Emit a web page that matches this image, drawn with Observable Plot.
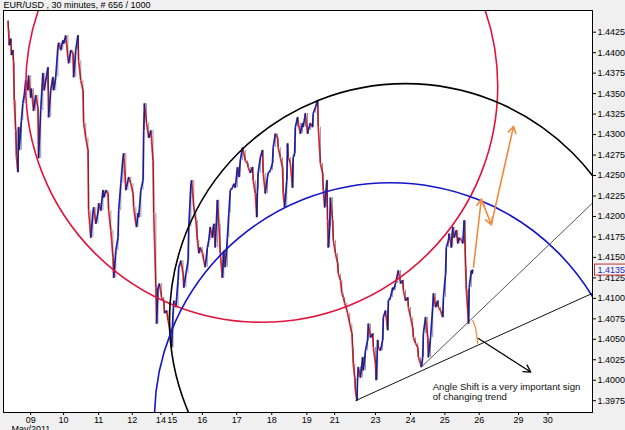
<!DOCTYPE html>
<html><head><meta charset="utf-8">
<script src="https://cdn.jsdelivr.net/npm/d3@7"></script>
<script src="https://cdn.jsdelivr.net/npm/@observablehq/plot@0.6"></script>
<style>
html,body{margin:0;padding:0;background:#f0f0f0;}
#chart{position:relative;width:625px;height:430px;overflow:hidden;}
</style></head><body><div id="chart"></div>
<script>
const title = "EUR/USD , 30 minutes, # 656 / 1000";
const monthLabel = "May/2011";

// 30-minute bar index (position in the bar sequence) and price along the path
const barIndex = [
  6,7,8,10,11,13,14,15,17,18,
  20,21,22,25,27,29,31,34,35,38,
  39,42,45,48,49,52,55,57,62,63,
  66,69,70,73,76,77,80,83,84,87,
  90,91,94,97,98,101,104,105,108,111,
  112,115,118,119,122,125,126,129,132,133,
  136,139,140,143,146,147,150,153,154,157,
  160,161,164,167,168,171,174,175,178,181,
  182,185,186,188,189,192,195,196,197,200,
  203,206,209,210,213,214,216,218,221,224,
  225,228,230,232,235,237,238,241,244,245,
  248,251,252,255,258,259,262,263,266,267,
  269,271,273,275,278,280,282,285,287,289,
  292,294,296,299,301,303,306,308,310,313,
  315,317,320,322,324,327,329,331,334,335,
  338,341,342,345,348,349,352,354,355,356,
  359,362,363,366,369,370,373,376,377,380,
  383,384,387,390,391,393,396,397,398,401,
  404,405,407,408,411,412,415,418,419,422,
  425,426,429,432,433,436,439,440,443,446,
  447,449,452,453,454,456,457,460,461,464,
  467,468,471,473,475,477,480,481,484,487,
  488,489,491,492,494,495,496,499,502,503,
  506,509,510,513,516,517,520,521,523,524,
  527,530,531,534,537,538,541,544,545,548,
  551,552,555,558,559,562,565,566,569,572,
  573,576,579,580,583,584,586,587,590,593,
  594,597,600,601,604,607,608,611,614,615,
  618,619,622,623,626,628,630,633,635,637,
  640,642,644,646,647,649,650,651,654,655,656
];
const closePrice = [
  1.4439,1.4427,1.4409,1.4417,1.4397,1.4403,1.4388,1.4342,1.4305,1.4274,
  1.4254,1.4309,1.4281,1.4317,1.4338,1.4348,1.4366,1.4354,1.4372,1.4345,
  1.4356,1.4329,1.4348,1.4333,1.4271,1.4329,1.4375,1.4354,1.4382,1.4321,
  1.4354,1.4370,1.4354,1.4370,1.4406,1.4412,1.4403,1.4415,1.4411,1.4421,
  1.4394,1.4387,1.4403,1.4399,1.4370,1.4403,1.4421,1.4390,1.4366,1.4354,
  1.4314,1.4296,1.4281,1.4207,1.4174,1.4204,1.4211,1.4191,1.4204,1.4216,
  1.4207,1.4232,1.4223,1.4232,1.4228,1.4207,1.4183,1.4150,1.4125,1.4158,
  1.4174,1.4207,1.4240,1.4272,1.4277,1.4232,1.4244,1.4248,1.4240,1.4228,
  1.4211,1.4191,1.4187,1.4204,1.4199,1.4232,1.4244,1.4305,1.4338,1.4314,
  1.4296,1.4305,1.4268,1.4204,1.4113,1.4069,1.4113,1.4118,1.4101,1.4097,
  1.4082,1.4085,1.4073,1.4064,1.4040,1.4082,1.4097,1.4089,1.4122,1.4138,
  1.4146,1.4130,1.4113,1.4130,1.4146,1.4187,1.4240,1.4244,1.4211,1.4204,
  1.4195,1.4171,1.4155,1.4162,1.4155,1.4146,1.4138,1.4162,1.4171,1.4187,
  1.4174,1.4191,1.4162,1.4220,1.4191,1.4155,1.4125,1.4158,1.4138,1.4174,
  1.4204,1.4232,1.4235,1.4240,1.4235,1.4260,1.4248,1.4268,1.4284,1.4281,
  1.4268,1.4265,1.4260,1.4253,1.4260,1.4244,1.4228,1.4199,1.4232,1.4253,
  1.4272,1.4281,1.4253,1.4228,1.4248,1.4253,1.4256,1.4265,1.4284,1.4301,
  1.4296,1.4284,1.4272,1.4260,1.4228,1.4211,1.4244,1.4289,1.4272,1.4265,
  1.4235,1.4272,1.4277,1.4309,1.4321,1.4314,1.4301,1.4314,1.4309,1.4326,
  1.4301,1.4305,1.4314,1.4309,1.4326,1.4333,1.4342,1.4309,1.4265,1.4253,
  1.4232,1.4211,1.4244,1.4195,1.4162,1.4187,1.4223,1.4195,1.4171,1.4155,
  1.4143,1.4130,1.4122,1.4106,1.4101,1.4094,1.4085,1.4082,1.4069,1.4057,
  1.4040,1.4020,1.4003,1.3987,1.3975,1.4003,1.4016,1.4003,1.4028,1.4012,
  1.4036,1.4049,1.4069,1.4052,1.4057,1.4040,1.4020,1.4000,1.4049,1.4040,
  1.4036,1.4049,1.4077,1.4085,1.4061,1.4097,1.4101,1.4113,1.4110,1.4118,
  1.4130,1.4134,1.4118,1.4122,1.4110,1.4097,1.4101,1.4089,1.4077,1.4064,
  1.4052,1.4045,1.4040,1.4028,1.4020,1.4016,1.4028,1.4057,1.4077,1.4052,
  1.4028,1.4052,1.4089,1.4106,1.4089,1.4097,1.4089,1.4085,1.4077,1.4101,
  1.4130,1.4162,1.4171,1.4179,1.4162,1.4187,1.4174,1.4183,1.4167,1.4174,
  1.4171,1.4167,1.4195,1.4138,1.4110,1.4085,1.4069,1.4113,1.4134,1.4130,1.4135
];

// x-axis: day ticks (bar index) and their labels
const xTickBars = [38, 84, 133, 180, 220, 236, 278, 326, 375, 424, 463, 520, 569, 617, 665, 720, 761];
const xTickLabels = ["09","10","11","12","14","15","16","17","18","19","21","23","24","25","26","29","30"];
const yTicks = [1.3975,1.4000,1.4025,1.4050,1.4075,1.4100,1.4125,1.4150,1.4175,1.4200,
                1.4225,1.4250,1.4275,1.4300,1.4325,1.4350,1.4375,1.4400,1.4425];
const lastPrice = 1.4135;

// drawn circles: centers (bar, price)
const circleBar = [361, 562, 541];
const circlePrice = [1.4359, 1.4074, 1.3953];

// trend lines
const trendBar1 = [492, 584], trendPrice1 = [1.3975, 1.4016];
const trendBar2 = [823, 823], trendPrice2 = [1.4106, 1.4216];

// projected path (orange)
const projBar = [657, 668, 682, 713];
const projPrice = [1.4138, 1.4221, 1.4190, 1.4310];

// angle arc (orange)
const angleBar = [656, 660, 663];
const anglePrice = [1.4073, 1.4063, 1.4045];

// pointer arrow (black)
const pointerBar = [664, 737];
const pointerPrice = [1.4051, 1.4010];

const noteLines = ["Angle Shift is a very important sign", "of changing trend"];

// ---- build
const segs = barIndex.slice(1).map((b, i) => ({x1: barIndex[i], y1: closePrice[i], x2: b, y2: closePrice[i + 1]}));
const ups = segs.filter(d => d.y2 >= d.y1);
const downs = segs.filter(d => d.y2 < d.y1);
const tickLabelOf = new Map(xTickBars.map((b, i) => [b, xTickLabels[i]]));
const circles = circleBar.map((b, i) => ({b, p: circlePrice[i]}));
const trends = trendBar1.map((b, i) => ({x1: b, y1: trendPrice1[i], x2: trendBar2[i], y2: trendPrice2[i]}));
const proj = projBar.slice(1).map((b, i) => ({x1: projBar[i], y1: projPrice[i], x2: b, y2: projPrice[i + 1]}));
const angle = angleBar.map((b, i) => ({b, p: anglePrice[i]}));
const pointer = [{x1: pointerBar[0], y1: pointerPrice[0], x2: pointerBar[1], y2: pointerPrice[1]}];

const circleColors = ["#e0143c", "#000000", "#1414c8"];

const plot = Plot.plot({
  width: 625, height: 430,
  marginTop: 10, marginLeft: 3, marginRight: 33, marginBottom: 18,
  style: {background: "#f0f0f0", fontFamily: "'Liberation Sans', Arial, sans-serif", fontSize: "9px", color: "#000", overflow: "visible"},
  x: {domain: [0, 823.4], ticks: xTickBars, tickFormat: d => tickLabelOf.get(d), tickSize: 3, tickPadding: 1, label: null},
  y: {domain: [1.39606, 1.44515], ticks: yTicks, tickFormat: d => d.toFixed(4), axis: "right", tickSize: 3, tickPadding: 2, label: null},
  marks: [
    Plot.frame({fill: "white", stroke: "none"}),
    Plot.link(downs, {x1: "x1", y1: "y1", x2: "x2", y2: "y2", stroke: "#d8283c", strokeWidth: 1.7}),
    Plot.link(ups, {x1: "x1", y1: "y1", x2: "x2", y2: "y2", stroke: "#2020c0", strokeWidth: 1.7}),
    Plot.ruleX(segs, {x: "x2", y1: "y1", y2: "y2", stroke: "#1a1a1a", strokeOpacity: 0.45, strokeWidth: 1}),
    ...circles.map((c, i) => Plot.dot([c], {x: "b", y: "p", r: 236, fill: "none", stroke: circleColors[i], strokeWidth: 1.6, clip: true})),
    Plot.link(trends, {x1: "x1", y1: "y1", x2: "x2", y2: "y2", stroke: (d, i) => i === 0 ? "#111" : "#555", strokeWidth: 1}),
    Plot.arrow(proj, {x1: "x1", y1: "y1", x2: "x2", y2: "y2", stroke: "#f08a3c", strokeWidth: 1.6, headLength: 7}),
    Plot.line(angle, {x: "b", y: "p", stroke: "#f08a3c", strokeWidth: 1.2, curve: "natural"}),
    Plot.arrow(pointer, {x1: "x1", y1: "y1", x2: "x2", y2: "y2", stroke: "#000", strokeWidth: 1.3, headLength: 9}),
    Plot.text([{t: noteLines.join("\n"), b: 600, p: 1.3986}], {x: "b", y: "p", text: "t", textAnchor: "start", lineAnchor: "middle", lineHeight: 1.07, fontSize: 9.6, fill: "#111"}),
    Plot.frame({stroke: "#000", fill: "none"}),
    Plot.text([title], {frameAnchor: "top-left", dy: -5, text: d => d, textAnchor: "start", lineAnchor: "middle", fill: "#000"}),
    Plot.text([monthLabel], {frameAnchor: "bottom-left", dx: 8, dy: 17, text: d => d, textAnchor: "start", lineAnchor: "middle", fill: "#000"}),
    Plot.text([lastPrice], {y: d => d, frameAnchor: "right", dx: 5, text: d => d.toFixed(4), textAnchor: "start", lineAnchor: "middle", fill: "#2828c8"})
  ]
});
document.getElementById("chart").appendChild(plot);

// box around current price label
const lbl = Array.from(plot.querySelectorAll("text")).filter(t => t.textContent === lastPrice.toFixed(4)).pop();
if (lbl) {
  const bb = lbl.getBBox();
  const ctm = lbl.getCTM();
  const svg = plot.tagName.toLowerCase() === "svg" ? plot : plot.querySelector("svg");
  const sctm = svg.getCTM();
  const rect = document.createElementNS("http://www.w3.org/2000/svg", "rect");
  const m = sctm.inverse().multiply(ctm);
  rect.setAttribute("x", m.e + bb.x - 3);
  rect.setAttribute("y", m.f + bb.y - 0.5);
  rect.setAttribute("width", bb.width + 5);
  rect.setAttribute("height", bb.height + 1);
  rect.setAttribute("fill", "#f4f4f4");
  rect.setAttribute("stroke", "#c03030");
  rect.setAttribute("stroke-width", "1");
  svg.appendChild(rect);
  const g = lbl.closest("g");
  svg.appendChild(g);
}
</script></body></html>
